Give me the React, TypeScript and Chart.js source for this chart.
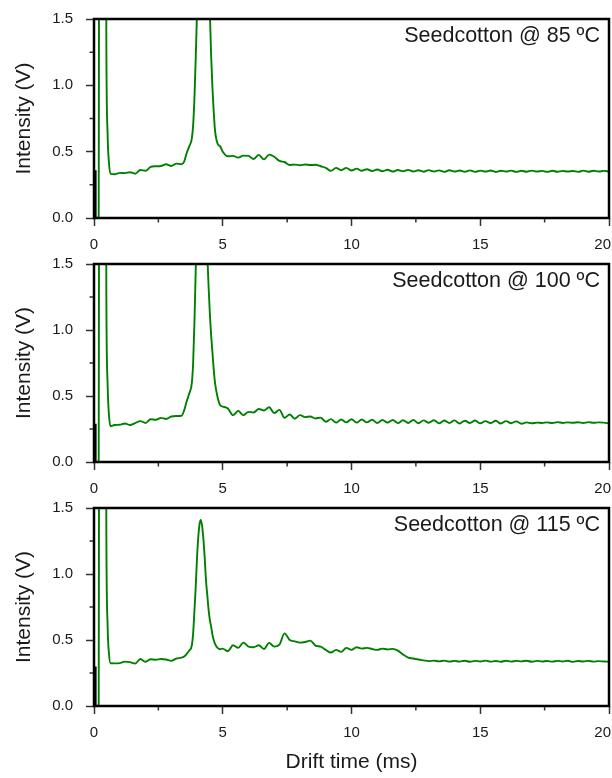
import React, { useEffect, useRef } from 'react';
import { Chart, registerables } from 'chart.js';

Chart.register(...registerables);

// Drift time grid (ms), shared by the three spectra
const driftTime = [
  0.18, 0.22, 0.44, 0.48, 0.53, 0.58, 0.64, 0.8, 1.0, 1.2,
  1.4, 1.6, 1.8, 2.0, 2.2, 2.4, 2.6, 2.8, 3.0, 3.2,
  3.4, 3.5, 3.6, 3.7, 3.8, 3.85, 3.9, 3.95, 4.0, 4.05,
  4.1, 4.15, 4.2, 4.25, 4.3, 4.35, 4.4, 4.45, 4.5, 4.55,
  4.6, 4.65, 4.7, 4.8, 4.9, 5.0, 5.2, 5.4, 5.6, 5.8,
  6.0, 6.2, 6.4, 6.6, 6.8, 7.0, 7.2, 7.4, 7.6, 7.8,
  8.0, 8.2, 8.4, 8.6, 8.8, 9.0, 9.2, 9.4, 9.6, 9.8,
  10.0, 10.2, 10.4, 10.6, 10.8, 11.0, 11.2, 11.4, 11.6, 11.8,
  12.0, 12.2, 12.4, 12.6, 12.8, 13.0, 13.2, 13.4, 13.6, 13.8,
  14.0, 14.2, 14.4, 14.6, 14.8, 15.0, 15.2, 15.4, 15.6, 15.8,
  16.0, 16.2, 16.4, 16.6, 16.8, 17.0, 17.2, 17.4, 17.6, 17.8,
  18.0, 18.2, 18.4, 18.6, 18.8, 19.0, 19.2, 19.4, 19.6, 19.8,
  20.0,
];

// Intensity (V) at 85 ºC
const intensity85 = [
  -0.3, 4.0, 4.0, 1.3, 0.62, 0.42, 0.335, 0.33, 0.34, 0.338,
  0.345, 0.334, 0.362, 0.356, 0.385, 0.39, 0.392, 0.405, 0.392, 0.41,
  0.405, 0.425, 0.49, 0.54, 0.6, 0.7, 0.9, 1.2, 1.55, 2.0,
  2.5, 2.8, 2.9, 2.9, 2.8, 2.6, 2.3, 1.9, 1.55, 1.22,
  0.98, 0.8, 0.66, 0.56, 0.54, 0.5, 0.465, 0.468, 0.455, 0.47,
  0.468, 0.445, 0.476, 0.442, 0.478, 0.462, 0.43, 0.422, 0.4, 0.402,
  0.398, 0.403, 0.399, 0.401, 0.39, 0.378, 0.355, 0.378, 0.36, 0.378,
  0.358, 0.372, 0.356, 0.368, 0.354, 0.366, 0.352, 0.364, 0.35, 0.362,
  0.352, 0.363, 0.35, 0.36, 0.349, 0.361, 0.35, 0.359, 0.348, 0.36,
  0.35, 0.358, 0.349, 0.359, 0.348, 0.357, 0.35, 0.358, 0.347, 0.356,
  0.35, 0.357, 0.348, 0.356, 0.349, 0.357, 0.35, 0.355, 0.348, 0.356,
  0.349, 0.355, 0.35, 0.354, 0.348, 0.357, 0.349, 0.356, 0.35, 0.355,
  0.351,
];

// Intensity (V) at 100 ºC
const intensity100 = [
  -0.3, 4.0, 4.0, 1.25, 0.58, 0.36, 0.27, 0.28, 0.282, 0.292,
  0.28, 0.295, 0.31, 0.296, 0.324, 0.32, 0.334, 0.326, 0.345, 0.348,
  0.35, 0.39, 0.46, 0.52, 0.6, 0.75, 1.05, 1.45, 1.9, 2.4,
  2.6, 2.9, 3.0, 2.9, 2.6, 2.1, 1.6, 1.33, 1.12, 0.96,
  0.83, 0.7, 0.6, 0.49, 0.43, 0.42, 0.405, 0.355, 0.387, 0.355,
  0.38, 0.375, 0.402, 0.39, 0.415, 0.37, 0.395, 0.335, 0.36, 0.328,
  0.355, 0.34, 0.345, 0.33, 0.336, 0.305, 0.325, 0.298, 0.322, 0.3,
  0.324, 0.298, 0.322, 0.3, 0.32, 0.296, 0.318, 0.298, 0.318, 0.295,
  0.316, 0.296, 0.318, 0.294, 0.315, 0.297, 0.316, 0.293, 0.314, 0.296,
  0.315, 0.292, 0.313, 0.295, 0.314, 0.293, 0.31, 0.295, 0.312, 0.292,
  0.31, 0.294, 0.308, 0.29, 0.3, 0.293, 0.298, 0.296, 0.3, 0.295,
  0.302, 0.296, 0.3, 0.297, 0.301, 0.295, 0.302, 0.297, 0.3, 0.298,
  0.293,
];

// Intensity (V) at 115 ºC
const intensity115 = [
  -0.3, 4.0, 4.0, 1.3, 0.6, 0.4, 0.324, 0.323, 0.325, 0.336,
  0.332, 0.322, 0.356, 0.335, 0.354, 0.35, 0.356, 0.352, 0.342, 0.36,
  0.366, 0.375, 0.395, 0.42, 0.46, 0.55, 0.72, 0.9, 1.12, 1.28,
  1.38, 1.41, 1.36, 1.26, 1.12, 0.95, 0.84, 0.73, 0.65, 0.6,
  0.54, 0.5, 0.47, 0.44, 0.43, 0.435, 0.415, 0.46, 0.44, 0.48,
  0.45, 0.445, 0.46, 0.432, 0.478, 0.45, 0.465, 0.55, 0.5, 0.49,
  0.48, 0.485, 0.495, 0.458, 0.45, 0.425, 0.405, 0.425, 0.41, 0.44,
  0.425, 0.445, 0.435, 0.44, 0.432, 0.425, 0.435, 0.428, 0.433, 0.42,
  0.39, 0.367, 0.36, 0.352, 0.346, 0.34, 0.344, 0.338, 0.344, 0.336,
  0.342, 0.336, 0.343, 0.335, 0.342, 0.337, 0.344, 0.336, 0.341, 0.335,
  0.343, 0.336, 0.342, 0.338, 0.343, 0.335, 0.342, 0.337, 0.341, 0.336,
  0.342, 0.337, 0.343, 0.334, 0.341, 0.337, 0.342, 0.336, 0.34, 0.337,
  0.336,
];

// Short black trace at the start of each record
const blackTraceTime = [0.07, 0.07];
const blackTrace85 = [0.36, -0.1];
const blackTrace100 = [0.29, -0.1];
const blackTrace115 = [0.3, -0.1];

const panelLabels = ['Seedcotton @ 85 ºC', 'Seedcotton @ 100 ºC', 'Seedcotton @ 115 ºC'];
const seriesList = [intensity85, intensity100, intensity115];
const blackList = [blackTrace85, blackTrace100, blackTrace115];

const xMax = 20;
const xMinorTicks = [2.5, 7.5, 12.5, 17.5];
const yMinorTicks = [0.25, 0.75, 1.25];

const FONT = "'Liberation Sans', Arial, Helvetica, sans-serif";
const TEXT = '#1a1a1a';
const TICK_FONT = 15;
const TICK_PAD = 10;
const TICK_LEN = 8;

const decorPlugin = {
  id: 'panelDecor',
  afterDraw(chart: any, _args: any, opts: any) {
    const { ctx, chartArea: a, scales, width } = chart;
    const x = scales.x;
    const y = scales.y;
    ctx.save();
    ctx.strokeStyle = '#333';
    ctx.lineWidth = 1.5;
    ctx.beginPath();
    for (const v of xMinorTicks) {
      const px = x.getPixelForValue(v);
      ctx.moveTo(px, a.bottom);
      ctx.lineTo(px, a.bottom + 4.5);
    }
    for (const v of yMinorTicks) {
      const py = y.getPixelForValue(v);
      ctx.moveTo(a.left - 4.5, py);
      ctx.lineTo(a.left, py);
    }
    ctx.stroke();
    ctx.strokeStyle = '#000';
    ctx.lineWidth = 2.5;
    ctx.strokeRect(a.left, a.top, a.right - a.left, a.bottom - a.top);
    // last x tick label, kept inside the page edge
    ctx.fillStyle = TEXT;
    ctx.font = `${TICK_FONT}px ${FONT}`;
    ctx.textAlign = 'right';
    ctx.textBaseline = 'middle';
    const lastX = x.getPixelForValue(xMax);
    const w = ctx.measureText(String(xMax)).width;
    ctx.fillText(
      String(xMax),
      Math.min(lastX + w / 2, width - 1),
      a.bottom + TICK_LEN + TICK_PAD + (TICK_FONT * 1.2) / 2
    );
    // panel annotation
    ctx.font = `21.5px ${FONT}`;
    ctx.textBaseline = 'alphabetic';
    ctx.fillText(opts.label || '', a.right - 9, a.top + 23);
    ctx.restore();
  },
};

// canvases overlap (transparent), so each panel's tick labels stay visible
const PANELS = [
  { top: 0, height: 264, area: 199 },
  { top: 245, height: 264, area: 198 },
  { top: 489, height: 289, area: 198 },
];

function Panel({ idx }: { idx: number }) {
  const ref = useRef<HTMLCanvasElement>(null);
  const p = PANELS[idx];
  useEffect(() => {
    const series = seriesList[idx];
    const black = blackList[idx];
    const isLast = idx === 2;
    const axisH = p.height - 19 - p.area;
    const chart = new Chart(ref.current as HTMLCanvasElement, {
      type: 'line',
      data: {
        datasets: [
          {
            data: driftTime.map((t, i) => ({ x: t, y: series[i] })),
            borderColor: '#008000',
            borderWidth: 1.9,
            pointRadius: 0,
            cubicInterpolationMode: 'monotone',
            fill: false,
          },
          {
            data: blackTraceTime.map((t, i) => ({ x: t, y: black[i] })),
            borderColor: '#000',
            borderWidth: 1.6,
            pointRadius: 0,
            fill: false,
          },
        ],
      },
      options: {
        animation: false,
        responsive: false,
        events: [],
        layout: { padding: { top: 19, right: 3, left: 0, bottom: 0 } },
        plugins: {
          legend: { display: false },
          tooltip: { enabled: false },
          panelDecor: { label: panelLabels[idx] },
        } as any,
        scales: {
          x: {
            type: 'linear',
            min: 0,
            max: xMax,
            ticks: {
              stepSize: 5,
              color: TEXT,
              font: { family: FONT, size: TICK_FONT },
              padding: TICK_PAD,
              maxRotation: 0,
              autoSkip: false,
              callback: (v: any) => (Number(v) === xMax ? '' : String(v)),
            },
            grid: { drawOnChartArea: false, drawTicks: true, tickLength: TICK_LEN, tickWidth: 1.5, tickColor: '#333' },
            border: { display: false },
            title: {
              display: isLast,
              text: 'Drift time (ms)',
              color: TEXT,
              font: { family: FONT, size: 21 },
              padding: { top: 0, bottom: 3 },
            },
            afterFit: (s: any) => {
              s.height = axisH;
              s.paddingLeft = 0;
              s.paddingRight = 0;
              s.paddingTop = 0;
              s.paddingBottom = 0;
            },
          },
          y: {
            type: 'linear',
            min: 0,
            max: 1.5,
            ticks: {
              stepSize: 0.5,
              color: TEXT,
              font: { family: FONT, size: TICK_FONT },
              padding: 13,
              callback: (v: any) => Number(v).toFixed(1),
            },
            grid: { drawOnChartArea: false, drawTicks: true, tickLength: TICK_LEN, tickWidth: 1.5, tickColor: '#333' },
            border: { display: false },
            title: {
              display: true,
              text: 'Intensity (V)',
              color: TEXT,
              font: { family: FONT, size: 21 },
              padding: { top: 12, bottom: 0 },
            },
            afterFit: (s: any) => {
              s.width = 94;
              s.paddingLeft = 0;
              s.paddingRight = 0;
              s.paddingTop = 0;
              s.paddingBottom = 0;
            },
          },
        },
      } as any,
      plugins: [decorPlugin as any],
    });
    return () => chart.destroy();
  }, [idx]);
  return (
    <canvas
      ref={ref}
      width={612}
      height={p.height}
      style={{ position: 'absolute', left: 0, top: p.top, width: 612, height: p.height, display: 'block' }}
    />
  );
}

export default function App() {
  return (
    <div style={{ position: 'absolute', left: 0, top: 0, width: 612, height: 778, background: '#fff', overflow: 'hidden' }}>
      <Panel idx={0} />
      <Panel idx={1} />
      <Panel idx={2} />
    </div>
  );
}
